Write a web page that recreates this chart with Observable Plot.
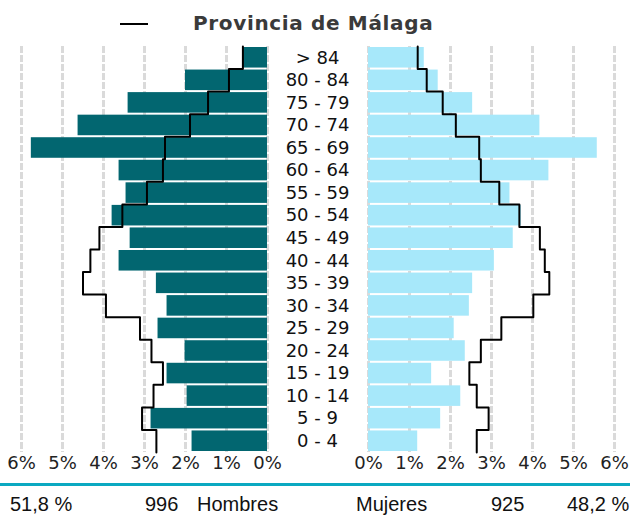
<!DOCTYPE html>
<html><head><meta charset="utf-8">
<script src="https://cdn.jsdelivr.net/npm/d3@7"></script>
<script src="https://cdn.jsdelivr.net/npm/@observablehq/plot@0.6"></script>
<style>
body{margin:0;background:#fff;}
#wrap{position:relative;width:637px;height:515px;overflow:hidden;background:#fff;}
#title{position:absolute;left:193px;top:13px;font:bold 20px/20px "DejaVu Sans";letter-spacing:0.65px;color:#3a3a3a;white-space:nowrap;}
#leg{position:absolute;left:120px;top:23px;width:28px;height:2px;background:#000;}
#left{position:absolute;left:0;top:40px;}
#right{position:absolute;left:317px;top:40px;}
#rule{position:absolute;left:0;top:483px;width:630px;height:3px;background:#0aa9c1;}
.foot{position:absolute;top:494px;font:20px/20px "Liberation Sans",Arial,sans-serif;color:#111;white-space:nowrap;}
</style></head><body>
<div id="wrap">
  <div id="leg"></div>
  <div id="title"></div>
  <div id="left"></div>
  <div id="right"></div>
  <div id="rule"></div>
  <div id="foot"></div>
</div>
<script>
// Age groups, bottom (youngest) to top (oldest)
const ages = ["0 - 4","5 - 9","10 - 14","15 - 19","20 - 24","25 - 29","30 - 34","35 - 39","40 - 44","45 - 49","50 - 54","55 - 59","60 - 64","65 - 69","70 - 74","75 - 79","80 - 84","> 84"];
// Municipality, % of total population
const men   = [1.84,2.84,1.96,2.45,2.01,2.67,2.45,2.71,3.62,3.35,3.79,3.45,3.62,5.76,4.62,3.40,2.00,0.60];
const women = [1.20,1.76,2.25,1.54,2.36,2.09,2.46,2.54,3.07,3.53,3.73,3.45,4.40,5.58,4.18,2.54,1.70,1.36];
// Provincia de Málaga (reference line), %
const menProv   = [2.71,3.06,2.78,2.55,2.83,3.11,3.94,4.50,4.32,4.10,3.54,2.94,2.55,2.50,1.89,1.45,0.94,0.60];
const womenProv = [2.64,2.93,2.64,2.46,2.74,3.24,4.02,4.41,4.30,4.18,3.68,3.19,2.74,2.70,2.13,1.81,1.42,1.20];
const xTicks = [0,1,2,3,4,5,6];
const titleText = "Provincia de Málaga";
const footLabels = ["51,8 %","996","Hombres","Mujeres","925","48,2 %"];
const footLeft   = [10,145,197,356,491,567];

document.getElementById("title").textContent = titleText;
const foot = document.getElementById("foot");
footLabels.forEach((t,k)=>{const s=document.createElement("div");s.className="foot";s.style.left=footLeft[k]+"px";s.textContent=t;foot.appendChild(s);});

const rows = ages.map((a,i)=>({age:a,i,men:men[i],women:women[i],menProv:menProv[i],womenProv:womenProv[i]}));
const stepPts = key => rows.flatMap(r=>[{x:r[key],y:r.i-0.5},{x:r[key],y:r.i+0.5}]);

function panel(side){
  const isMen = side==="men";
  return Plot.plot({
    width: isMen?317:320, height:442,
    marginTop:6, marginBottom:30,
    marginLeft: isMen?21:51, marginRight: isMen?50:23,
    style:"font-family:'DejaVu Sans';font-size:18px;color:#222;background:transparent;overflow:visible;",
    x:{domain:[0,6], reverse:isMen, ticks:xTicks, tickFormat:d=>d+"%", tickSize:0, tickPadding:4, label:null},
    y:{domain:[-0.5,17.5], axis:null},
    marks:[
      Plot.ruleX(xTicks,{stroke:"#dadada",strokeWidth:3,strokeDasharray:"7,2"}),
      Plot.rect(rows,{x1:0,x2:side,y1:d=>d.i-0.5,y2:d=>d.i+0.5,insetTop:1,insetBottom:1,fill:isMen?"#026670":"#a7e8fa"}),
      Plot.line(stepPts(isMen?"menProv":"womenProv"),{x:"x",y:"y",stroke:"#000",strokeWidth:2}),
      isMen ? Plot.text(rows,{x:0,y:"i",text:"age",dx:50,textAnchor:"middle",fill:"#111",fontSize:18}) : null
    ]
  });
}
document.getElementById("left").appendChild(panel("men"));
document.getElementById("right").appendChild(panel("women"));
</script>
</body></html>
